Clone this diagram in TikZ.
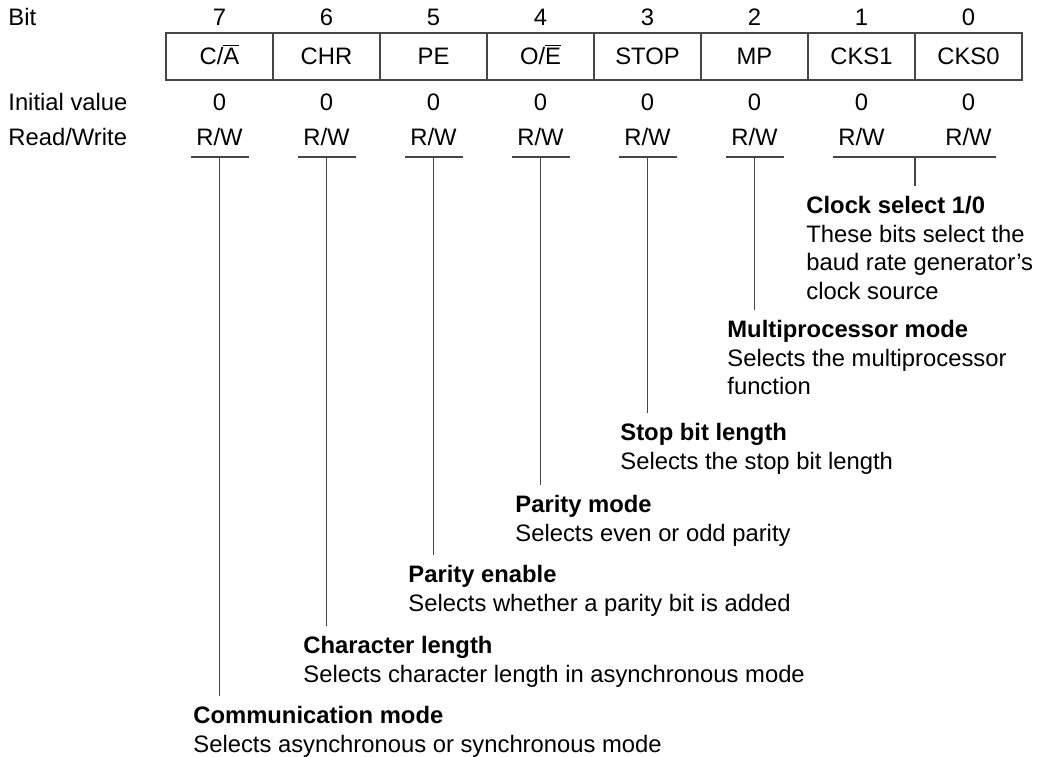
\documentclass[tikz,border=0pt]{standalone}
\usepackage{fontspec}
\setmainfont{Liberation Sans}
\usetikzlibrary{positioning}
\definecolor{lineGray}{RGB}{70,70,70}
\newcommand{\ovl}[1]{$\overline{\mbox{#1}}$}

\begin{document}
\begin{tikzpicture}[x=0.5pt,y=-0.5pt,
    every node/.style={font=\fontsize{11.9}{14.25}\selectfont, inner sep=0pt},
    cell/.style={draw=lineGray, line width=0.6pt, minimum width=53.5pt, minimum height=23.5pt,
      text height=8pt, text depth=0pt, outer sep=0pt},
    block/.style={anchor=north west, align=left, inner ysep=5pt},
    conn/.style={draw=lineGray, line width=0.6pt}]
  \useasboundingbox (0,0) rectangle (1037,756);
  % row labels
  \node[anchor=base west] (lbit) at (8,25) {Bit};
  \node[anchor=base west] (linit) at (8,110) {Initial value};
  \node[anchor=base west] (lrw) at (8,145) {Read/Write};
  % register cells
  \node[cell] (b7) at (219.5,56.5) {C/\ovl{A}};
  \node[cell, right=0pt of b7] (b6) {CHR};
  \node[cell, right=0pt of b6] (b5) {PE};
  \node[cell, right=0pt of b5] (b4) {O/\ovl{E}};
  \node[cell, right=0pt of b4] (b3) {STOP};
  \node[cell, right=0pt of b3] (b2) {MP};
  \node[cell, right=0pt of b2] (b1) {CKS1};
  \node[cell, right=0pt of b1] (b0) {CKS0};
  \foreach \i in {0,...,7} {
    \node[anchor=base] (n\i) at (b\i |- 0,25) {\i};
    \node[anchor=base] (v\i) at (b\i |- 0,110) {0};
    \node[anchor=base] (rw\i) at (b\i |- 0,145) {R/W};
    \coordinate (u\i) at ([yshift=-6pt]rw\i.base);
  }
  % underlines below R/W
  \foreach \i in {2,...,7}
    \draw[conn] ([xshift=-14.5pt]u\i) -- ([xshift=14.5pt]u\i);
  \draw[conn] ([xshift=-14.25pt]u1) -- ([xshift=13.75pt]u0);
  \coordinate (ucks) at (b1.east |- u1);
  % bit descriptions
  \node[block] (cks) at (806,186) {\textbf{Clock select 1/0}\\These bits select the\\baud rate generator’s\\clock source};
  \node[block] (mp) at (727,310) {\textbf{Multiprocessor mode}\\Selects the multiprocessor\\function};
  \node[block] (stop) at (620,413) {\textbf{Stop bit length}\\Selects the stop bit length};
  \node[block] (oe) at (515,485) {\textbf{Parity mode}\\Selects even or odd parity};
  \node[block] (pe) at (408,555) {\textbf{Parity enable}\\Selects whether a parity bit is added};
  \node[block] (chr) at (303,626) {\textbf{Character length}\\Selects character length in asynchronous mode};
  \node[block] (ca) at (193,696) {\textbf{Communication mode}\\Selects asynchronous or synchronous mode};
  % leader lines
  \draw[conn] (ucks) -- (ucks |- cks.north);
  \draw[conn] (u2) -- (u2 |- mp.north);
  \draw[conn] (u3) -- (u3 |- stop.north);
  \draw[conn] (u4) -- (u4 |- oe.north);
  \draw[conn] (u5) -- (u5 |- pe.north);
  \draw[conn] (u6) -- (u6 |- chr.north);
  \draw[conn] (u7) -- (u7 |- ca.north);
\end{tikzpicture}
\end{document}
